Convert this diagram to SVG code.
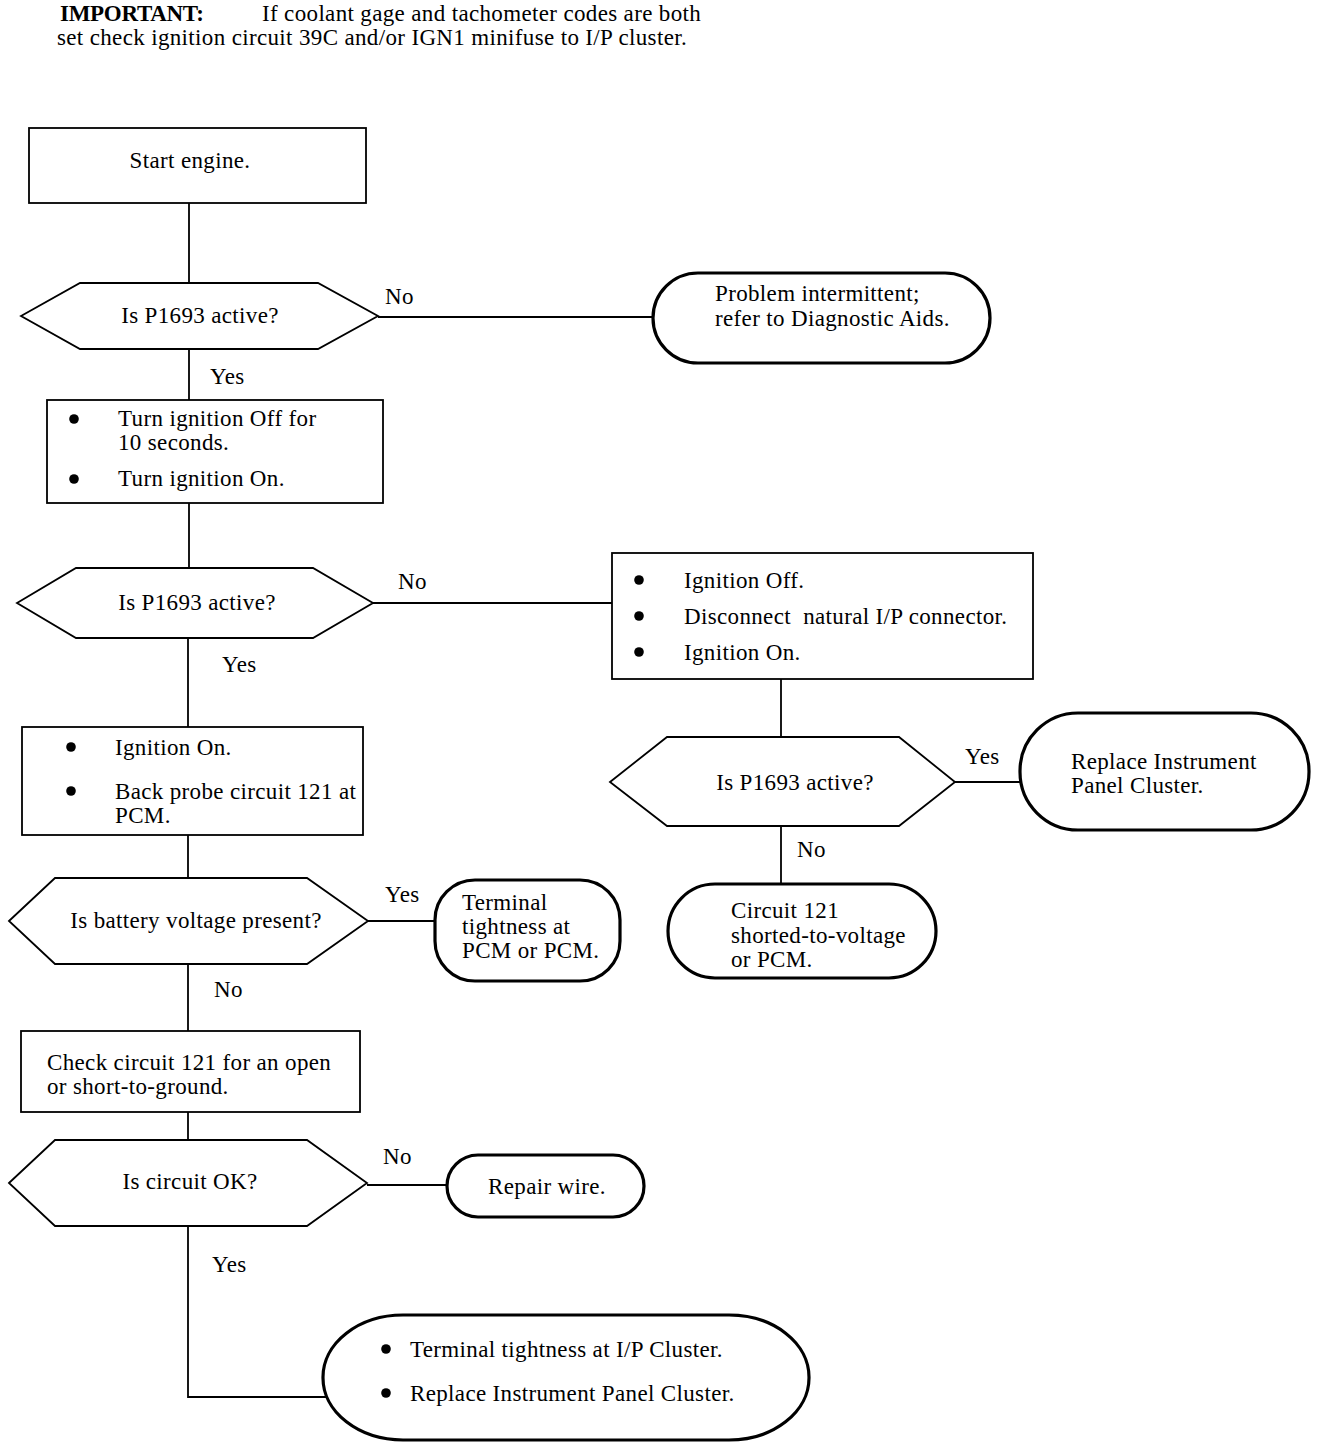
<svg xmlns="http://www.w3.org/2000/svg" width="1328" height="1448" viewBox="0 0 1328 1448">
<style>
text{font-family:"Liberation Serif","Times New Roman",serif;font-size:23px;letter-spacing:0.35px;fill:#000}
.b{font-weight:bold;letter-spacing:-0.3px}
.m{text-anchor:middle}
.box{fill:#fff;stroke:#000;stroke-width:1.8}
.dec{fill:#fff;stroke:#000;stroke-width:1.8}
.term{fill:#fff;stroke:#000;stroke-width:3.2}
.con{fill:none;stroke:#000;stroke-width:1.8}
.dot{fill:#000}
</style>
<rect width="1328" height="1448" fill="#fff"/>
<g id="header">
<text x="60" y="21" class="b">IMPORTANT:</text>
<text x="262" y="21">If coolant gage and tachometer codes are both</text>
<text x="57" y="45">set check ignition circuit 39C and/or IGN1 minifuse to I/P cluster.</text>
</g>
<g id="connectors">
<path class="con" d="M189 203V283"/>
<path class="con" d="M378 317H653"/>
<path class="con" d="M189 349V400"/>
<path class="con" d="M189 503V568"/>
<path class="con" d="M373 603H612"/>
<path class="con" d="M781 679V737"/>
<path class="con" d="M955 782H1020"/>
<path class="con" d="M781 826V884"/>
<path class="con" d="M188 638V727"/>
<path class="con" d="M188 835V878"/>
<path class="con" d="M368 921H435"/>
<path class="con" d="M188 964V1031"/>
<path class="con" d="M188 1112V1140"/>
<path class="con" d="M367 1185H447"/>
<path class="con" d="M188 1226V1397H327"/>
<text x="385" y="304">No</text>
<text x="210" y="384">Yes</text>
<text x="398" y="589">No</text>
<text x="222" y="672">Yes</text>
<text x="965" y="764">Yes</text>
<text x="797" y="857">No</text>
<text x="385" y="902">Yes</text>
<text x="214" y="997">No</text>
<text x="383" y="1164">No</text>
<text x="212" y="1272">Yes</text>
</g>
<g id="start">
<rect class="box" x="29" y="128" width="337" height="75"/>
<text x="190" y="168" class="m">Start engine.</text>
</g>
<g id="dec1">
<polygon class="dec" points="21,316 80,283 318,283 378,316 318,349 80,349"/>
<text x="200" y="323" class="m">Is P1693 active?</text>
</g>
<g id="term1">
<rect class="term" x="653" y="273" width="337" height="90" rx="45" ry="45"/>
<text x="715" y="301">Problem intermittent;</text>
<text x="715" y="326">refer to Diagnostic Aids.</text>
</g>
<g id="box2">
<rect class="box" x="47" y="400" width="336" height="103"/>
<circle class="dot" cx="74" cy="419" r="4.8"/>
<circle class="dot" cx="74" cy="479" r="4.8"/>
<text x="118" y="426">Turn ignition Off for</text>
<text x="118" y="450">10 seconds.</text>
<text x="118" y="486">Turn ignition On.</text>
</g>
<g id="dec2">
<polygon class="dec" points="17,603 76,568 313,568 373,603 313,638 76,638"/>
<text x="197" y="610" class="m">Is P1693 active?</text>
</g>
<g id="box3">
<rect class="box" x="612" y="553" width="421" height="126"/>
<circle class="dot" cx="639" cy="580" r="4.8"/>
<circle class="dot" cx="639" cy="616" r="4.8"/>
<circle class="dot" cx="639" cy="652" r="4.8"/>
<text x="684" y="588">Ignition Off.</text>
<text x="684" y="624" xml:space="preserve">Disconnect  natural I/P connector.</text>
<text x="684" y="660">Ignition On.</text>
</g>
<g id="dec3">
<polygon class="dec" points="610,782 667,737 899,737 955,782 899,826 667,826"/>
<text x="795" y="790" class="m">Is P1693 active?</text>
</g>
<g id="term2">
<rect class="term" x="1020" y="713" width="289" height="117" rx="58" ry="58"/>
<text x="1071" y="769">Replace Instrument</text>
<text x="1071" y="793">Panel Cluster.</text>
</g>
<g id="term3">
<rect class="term" x="668" y="884" width="268" height="94" rx="47" ry="47"/>
<text x="731" y="918">Circuit 121</text>
<text x="731" y="943">shorted-to-voltage</text>
<text x="731" y="967">or PCM.</text>
</g>
<g id="box4">
<rect class="box" x="22" y="727" width="341" height="108"/>
<circle class="dot" cx="71" cy="747" r="4.8"/>
<circle class="dot" cx="71" cy="791" r="4.8"/>
<text x="115" y="755">Ignition On.</text>
<text x="115" y="799">Back probe circuit 121 at</text>
<text x="115" y="823">PCM.</text>
</g>
<g id="dec4">
<polygon class="dec" points="9,921 55,878 307,878 368,921 307,964 55,964"/>
<text x="196" y="928" class="m">Is battery voltage present?</text>
</g>
<g id="term4">
<rect class="term" x="435" y="880" width="185" height="101" rx="40" ry="40"/>
<text x="462" y="910">Terminal</text>
<text x="462" y="934">tightness at</text>
<text x="462" y="958">PCM or PCM.</text>
</g>
<g id="box5">
<rect class="box" x="21" y="1031" width="339" height="81"/>
<text x="47" y="1070">Check circuit 121 for an open</text>
<text x="47" y="1094">or short-to-ground.</text>
</g>
<g id="dec5">
<polygon class="dec" points="9,1183 55,1140 307,1140 367,1183 307,1226 55,1226"/>
<text x="190" y="1189" class="m">Is circuit OK?</text>
</g>
<g id="term5">
<rect class="term" x="447" y="1155" width="197" height="62" rx="31" ry="31"/>
<text x="547" y="1194" class="m">Repair wire.</text>
</g>
<g id="term6">
<rect class="term" x="323" y="1315" width="486" height="125" rx="80" ry="62"/>
<circle class="dot" cx="386" cy="1349" r="4.8"/>
<circle class="dot" cx="386" cy="1393" r="4.8"/>
<text x="410" y="1357">Terminal tightness at I/P Cluster.</text>
<text x="410" y="1401">Replace Instrument Panel Cluster.</text>
</g>
</svg>
